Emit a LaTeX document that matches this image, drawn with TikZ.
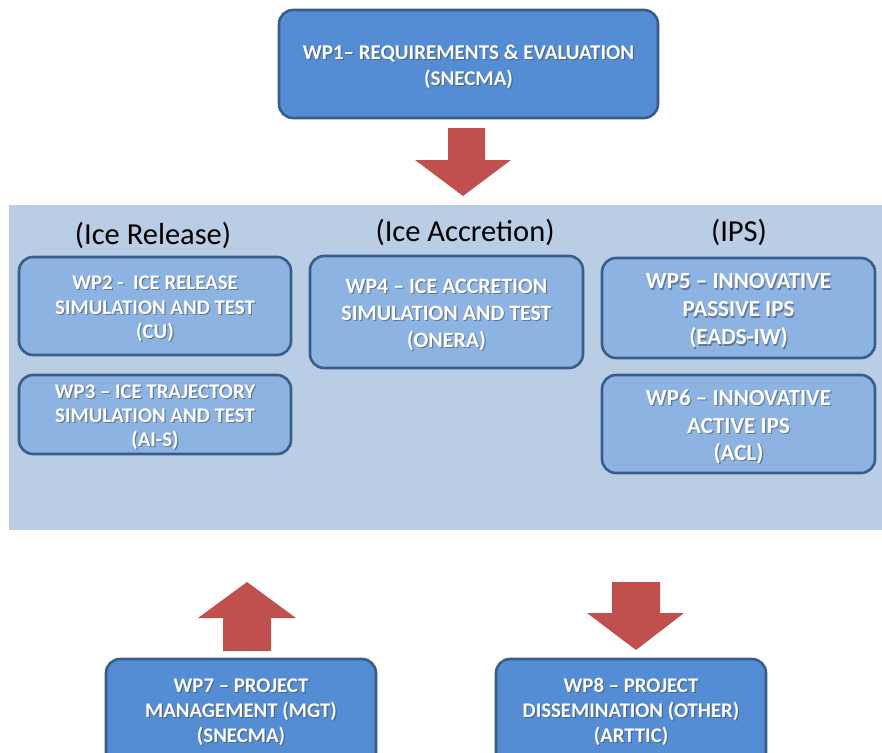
\documentclass[tikz,border=0pt]{standalone}
\usepackage{fontspec}
\setmainfont{Carlito}
\usetikzlibrary{fit}
\definecolor{boxline}{RGB}{56,93,138}
\definecolor{darkfill}{RGB}{84,141,212}
\definecolor{lightfill}{RGB}{141,179,226}
\definecolor{panelc}{RGB}{185,205,229}
\definecolor{arrred}{RGB}{192,80,77}
\definecolor{shadowc}{RGB}{60,70,90}
% name, style, x1,y1,x2,y2, font, text
\newcommand{\wpbox}[8]{%
  \node[#2, fit={(#3,#4)(#5,#6)}] (#1) {};
  \node[txt, font=\bfseries#7, text=shadowc, opacity=0.55, xshift=1.2pt, yshift=-4.2pt] (#1s) at (#1.center) {#8};
  \node[txt, font=\bfseries#7, yshift=-3pt] (#1t) at (#1.center) {#8};
}
\begin{document}
\begin{tikzpicture}[x=1pt,y=-1pt,
  box/.style={draw=boxline, line width=2.6pt, rounded corners=14pt, inner sep=0pt},
  darkbox/.style={box, fill=darkfill},
  lightbox/.style={box, fill=lightfill},
  txt/.style={text=white, align=center, inner sep=0pt},
  arr/.style={fill=arrred, draw=none},
  lbl/.style={font=\fontsize{30.5}{36}\selectfont, text=black, inner sep=0pt}]
\clip (0,0) rectangle (882,752);
\useasboundingbox (0,0) rectangle (882,752);
% panel
\node[fill=panelc, inner sep=0pt, fit={(9,205)(882,530)}] (panel) {};
% WP1
\wpbox{wp1}{darkbox}{279}{10}{658}{118}{\fontsize{21}{26}\selectfont}{WP1-- REQUIREMENTS \& EVALUATION\\(SNECMA)}
% arrow 1
\path[arr] (448,128) -- (485,128) -- (485,160) -- (511,160) -- (463,196) -- (415,160) -- (448,160) -- cycle;
% labels
\node[lbl] (l1) at (153,235) {(Ice Release)};
\node[lbl] (l2) at (465,232) {(Ice Accretion)};
\node[lbl] (l3) at (739,232) {(IPS)};
% boxes
\wpbox{wp2}{lightbox}{19}{257}{291}{355}{\fontsize{20.8}{24.5}\selectfont}{WP2 -\ \ ICE RELEASE\\SIMULATION AND TEST\\(CU)}
\wpbox{wp3}{lightbox}{19}{375}{291}{454}{\fontsize{20.8}{24}\selectfont}{WP3 -- ICE TRAJECTORY\\SIMULATION AND TEST\\(AI-S)}
\wpbox{wp4}{lightbox}{310}{256}{583}{368}{\fontsize{21.9}{27}\selectfont}{WP4 -- ICE ACCRETION\\SIMULATION AND TEST\\(ONERA)}
\wpbox{wp5}{lightbox}{602}{258}{875}{358}{\fontsize{23}{28}\selectfont}{WP5 -- INNOVATIVE\\PASSIVE IPS\\(EADS-IW)}
\wpbox{wp6}{lightbox}{602}{375}{875}{473}{\fontsize{23}{27.5}\selectfont}{WP6 -- INNOVATIVE\\ACTIVE IPS\\(ACL)}
% bottom arrows
\path[arr] (223,651) -- (223,618) -- (198,618) -- (247,582) -- (296,618) -- (271,618) -- (271,651) -- cycle;
\path[arr] (612,582) -- (660,582) -- (660,613) -- (684,613) -- (636,650) -- (587,613) -- (612,613) -- cycle;
% bottom boxes (cut by the lower edge)
\node[darkbox, fit={(106,659)(376,785)}] (wp7) {};
\node[txt, font=\bfseries\fontsize{20.8}{25}\selectfont, text=shadowc, opacity=0.55, xshift=1.2pt, yshift=-3.2pt] (wp7s) at (241,710) {WP7 -- PROJECT\\MANAGEMENT (MGT)\\(SNECMA)};
\node[txt, font=\bfseries\fontsize{20.8}{25}\selectfont, yshift=-2pt] (wp7t) at (241,710) {WP7 -- PROJECT\\MANAGEMENT (MGT)\\(SNECMA)};
\node[darkbox, fit={(496,659)(766,785)}] (wp8) {};
\node[txt, font=\bfseries\fontsize{20.8}{25}\selectfont, text=shadowc, opacity=0.55, xshift=1.2pt, yshift=-3.2pt] (wp8s) at (631,710) {WP8 -- PROJECT\\DISSEMINATION (OTHER)\\(ARTTIC)};
\node[txt, font=\bfseries\fontsize{20.8}{25}\selectfont, yshift=-2pt] (wp8t) at (631,710) {WP8 -- PROJECT\\DISSEMINATION (OTHER)\\(ARTTIC)};
\end{tikzpicture}
\end{document}
